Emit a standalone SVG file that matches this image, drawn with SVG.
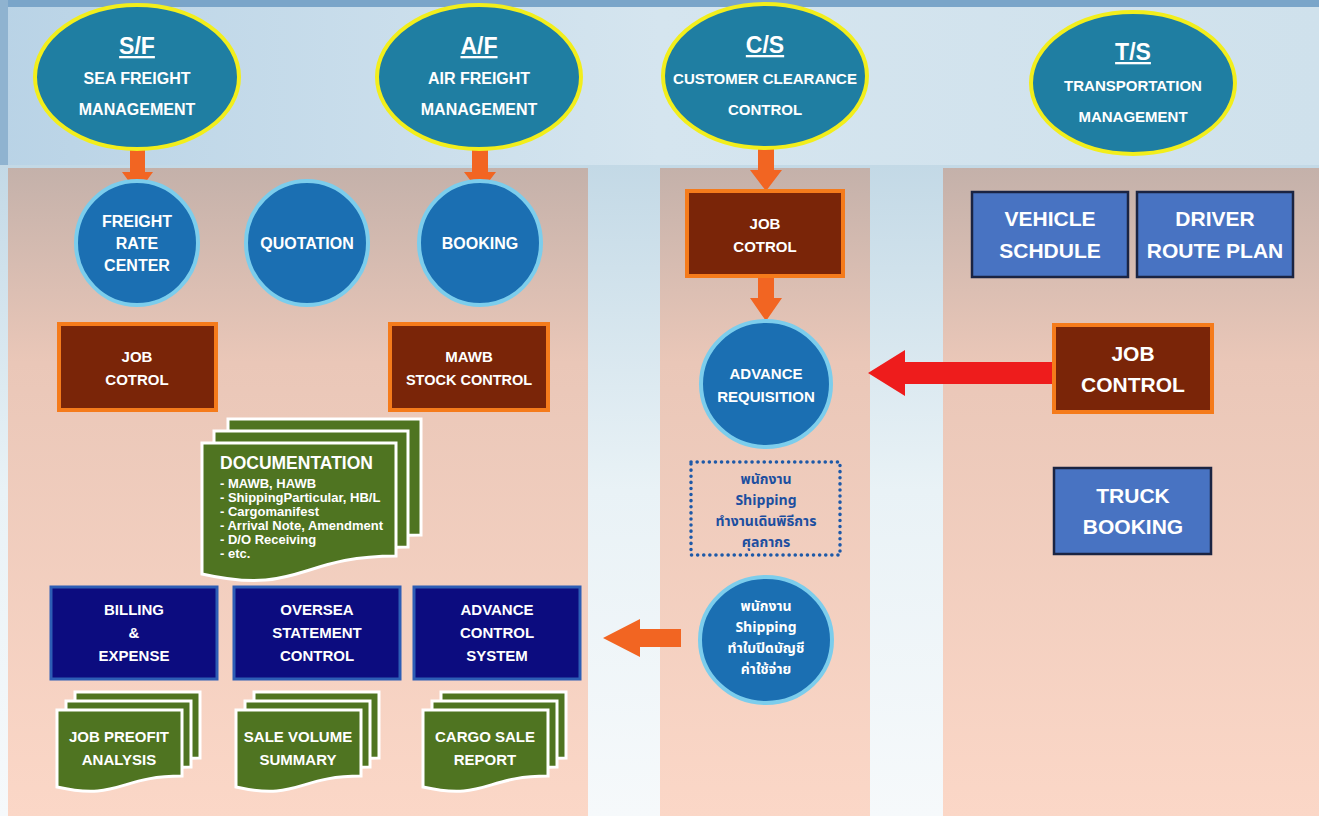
<svg xmlns="http://www.w3.org/2000/svg" width="1319" height="816" viewBox="0 0 1319 816">
<defs>
<linearGradient id="gTop" x1="0" y1="0" x2="1" y2="0"><stop offset="0" stop-color="#b9d3e6"/><stop offset="0.5" stop-color="#d5e5ef"/><stop offset="1" stop-color="#cfe1ec"/></linearGradient>
<linearGradient id="gPanel" x1="0" y1="0" x2="0" y2="1"><stop offset="0" stop-color="#c4b1aa"/><stop offset="0.3" stop-color="#eac7b8"/><stop offset="1" stop-color="#fbd7c7"/></linearGradient>
<linearGradient id="gGap" x1="0" y1="0" x2="0" y2="1"><stop offset="0" stop-color="#c3d9e6"/><stop offset="0.5" stop-color="#e9f2f6"/><stop offset="1" stop-color="#f6f9fb"/></linearGradient>
<style>
.ell{fill:#1f7ea2;stroke:#f2ee1c;stroke-width:4}
.cir{fill:#1b6fb2;stroke:#7ccdec;stroke-width:4}
.brn{fill:#7a2508;stroke:#f57b1b;stroke-width:4}
.nav{fill:#0c0c7f;stroke:#2d5db5;stroke-width:3}
.blu{fill:#4873c2;stroke:#1b2442;stroke-width:2.5}
.doc{fill:#4f7421;stroke:#ffffff;stroke-width:3}
.dot{fill:none;stroke:#1d59a8;stroke-width:3.5;stroke-dasharray:0.1 6;stroke-linecap:round}
.t{font-family:"Liberation Sans",Arial,sans-serif;font-weight:bold;fill:#ffffff;text-anchor:middle}
.th{font-family:"Noto Sans Thai","Noto Sans","DejaVu Sans","Liberation Sans",sans-serif;font-weight:bold;text-anchor:middle;font-size:14px}
.dl{font-size:13px;text-anchor:start}
.s15{font-size:15px}.s16{font-size:16px}.s14{font-size:14.5px}.s21{font-size:21px}.s23{font-size:23px}
.oarr{fill:#f26522}
.rarr{fill:#ee1c1c}
</style>
</defs>
<!-- background -->
<rect x="0" y="0" width="1319" height="816" fill="url(#gTop)"/>
<rect x="0" y="0" width="1319" height="7" fill="#7aa5c9"/>
<rect x="0" y="0" width="8" height="165" fill="#8fb3d0"/>
<rect x="0" y="165" width="1319" height="651" fill="url(#gGap)"/>
<rect x="8" y="168" width="580" height="648" fill="url(#gPanel)"/>
<rect x="660" y="168" width="210" height="648" fill="url(#gPanel)"/>
<rect x="943" y="168" width="376" height="648" fill="url(#gPanel)"/>

<g id="connectors">
<polygon class="oarr" points="130,150 145,150 145,172 153,172 137.5,193 122,172 130,172"/>
<polygon class="oarr" points="472,148 488,148 488,172 496,172 480,193 464,172 472,172"/>
<polygon class="oarr" points="758,148 774,148 774,170 782,170 766,191 750,170 758,170"/>
<polygon class="oarr" points="758,277 774,277 774,298 782,298 766,321 750,298 758,298"/>
<polygon class="oarr" points="681,629 640,629 640,619 603,638 640,657 640,647 681,647"/>
<polygon class="rarr" points="1053,362 905,362 905,350 868,373 905,396 905,384 1053,384"/>
</g>

<g id="sf"><ellipse class="ell" cx="137" cy="77" rx="102" ry="72"/>
<text class="t s23" x="137" y="54" text-decoration="underline">S/F</text>
<text class="t s16" x="137" y="84">SEA FREIGHT</text>
<text class="t s16" x="137" y="115">MANAGEMENT</text></g>
<g id="af"><ellipse class="ell" cx="479" cy="77" rx="102" ry="72"/>
<text class="t s23" x="479" y="54" text-decoration="underline">A/F</text>
<text class="t s16" x="479" y="84">AIR FREIGHT</text>
<text class="t s16" x="479" y="115">MANAGEMENT</text></g>
<g id="cs"><ellipse class="ell" cx="765" cy="76" rx="102" ry="72"/>
<text class="t s23" x="765" y="53" text-decoration="underline">C/S</text>
<text class="t s15" x="765" y="84">CUSTOMER CLEARANCE</text>
<text class="t s15" x="765" y="115">CONTROL</text></g>
<g id="ts"><ellipse class="ell" cx="1133" cy="83" rx="102" ry="71"/>
<text class="t s23" x="1133" y="60" text-decoration="underline">T/S</text>
<text class="t s15" x="1133" y="91">TRANSPORTATION</text>
<text class="t s15" x="1133" y="122">MANAGEMENT</text></g>

<g id="frc"><ellipse class="cir" cx="137" cy="243" rx="61" ry="62"/>
<text class="t s16" x="137" y="227">FREIGHT</text><text class="t s16" x="137" y="249">RATE</text><text class="t s16" x="137" y="271">CENTER</text></g>
<g id="quotation"><ellipse class="cir" cx="307" cy="243" rx="61" ry="62"/>
<text class="t s16" x="307" y="249">QUOTATION</text></g>
<g id="booking"><ellipse class="cir" cx="480" cy="243" rx="61" ry="62"/>
<text class="t s16" x="480" y="249">BOOKING</text></g>

<g id="jobcotrol1"><rect class="brn" x="59" y="324" width="157" height="86"/>
<text class="t s15" x="137" y="362">JOB</text><text class="t s15" x="137" y="385">COTROL</text></g>
<g id="mawb"><rect class="brn" x="390" y="324" width="158" height="86"/>
<text class="t s15" x="469" y="362">MAWB</text><text class="t s14" x="469" y="385">STOCK CONTROL</text></g>

<g id="documentation">
<path class="doc" d="M228,419 H421 V535 C325,535 325,575 228,553 Z"/>
<path class="doc" d="M214,431 H408 V547 C311,547 311,587 214,565 Z"/>
<path class="doc" d="M202,443 H396 V556 C299,556 299,596 202,574 Z"/>
<text class="t" style="font-size:17.5px;text-anchor:start" x="220" y="469">DOCUMENTATION</text>
<text class="t dl" x="220" y="488">- MAWB, HAWB</text>
<text class="t dl" x="220" y="502">- ShippingParticular, HB/L</text>
<text class="t dl" x="220" y="516">- Cargomanifest</text>
<text class="t dl" x="220" y="530">- Arrival Note, Amendment</text>
<text class="t dl" x="220" y="544">- D/O Receiving</text>
<text class="t dl" x="220" y="558">- etc.</text>
</g>

<g id="billing"><rect class="nav" x="51" y="587" width="166" height="92"/>
<text class="t s15" x="134" y="615">BILLING</text><text class="t s15" x="134" y="638">&amp;</text><text class="t s15" x="134" y="661">EXPENSE</text></g>
<g id="oversea"><rect class="nav" x="234" y="587" width="166" height="92"/>
<text class="t s15" x="317" y="615">OVERSEA</text><text class="t s15" x="317" y="638">STATEMENT</text><text class="t s15" x="317" y="661">CONTROL</text></g>
<g id="advctrl"><rect class="nav" x="414" y="587" width="166" height="92"/>
<text class="t s15" x="497" y="615">ADVANCE</text><text class="t s15" x="497" y="638">CONTROL</text><text class="t s15" x="497" y="661">SYSTEM</text></g>

<g id="jobprofit">
<path class="doc" d="M75,692 H200 V758 C137,758 137,783 75,769 Z"/>
<path class="doc" d="M66,701 H191 V767 C128,767 128,792 66,778 Z"/>
<path class="doc" d="M57,710 H182 V776 C119,776 119,801 57,787 Z"/>
<text class="t s15" x="119" y="742">JOB PREOFIT</text><text class="t s15" x="119" y="765">ANALYSIS</text></g>
<g id="salevolume">
<path class="doc" d="M254,692 H379 V758 C316,758 316,783 254,769 Z"/>
<path class="doc" d="M245,701 H370 V767 C307,767 307,792 245,778 Z"/>
<path class="doc" d="M236,710 H361 V776 C298,776 298,801 236,787 Z"/>
<text class="t s15" x="298" y="742">SALE VOLUME</text><text class="t s15" x="298" y="765">SUMMARY</text></g>
<g id="cargosale">
<path class="doc" d="M441,692 H566 V758 C503,758 503,783 441,769 Z"/>
<path class="doc" d="M432,701 H557 V767 C494,767 494,792 432,778 Z"/>
<path class="doc" d="M423,710 H548 V776 C485,776 485,801 423,787 Z"/>
<text class="t s15" x="485" y="742">CARGO SALE</text><text class="t s15" x="485" y="765">REPORT</text></g>

<g id="jobcotrol2"><rect class="brn" x="687" y="191" width="156" height="85"/>
<text class="t s15" x="765" y="229">JOB</text><text class="t s15" x="765" y="252">COTROL</text></g>
<g id="advreq"><ellipse class="cir" cx="766" cy="384" rx="65" ry="63"/>
<text class="t s15" x="766" y="379">ADVANCE</text><text class="t s15" x="766" y="402">REQUISITION</text></g>
<g id="shipping1"><rect class="dot" x="691" y="462" width="149" height="93"/>
<text class="th" style="fill:#1d4fa0" x="766" y="484">พนักงาน</text>
<text class="th" style="fill:#1d4fa0" x="766" y="505">Shipping</text>
<text class="th" style="fill:#1d4fa0" x="766" y="526">ทำงานเดินพิธีการ</text>
<text class="th" style="fill:#1d4fa0" x="766" y="547">ศุลกากร</text></g>
<g id="shipping2"><ellipse class="cir" cx="766" cy="640" rx="66" ry="63"/>
<text class="th" style="fill:#ffffff" x="766" y="611">พนักงาน</text>
<text class="th" style="fill:#ffffff" x="766" y="632">Shipping</text>
<text class="th" style="fill:#ffffff" x="766" y="653">ทำใบปิดบัญชี</text>
<text class="th" style="fill:#ffffff" x="766" y="674">ค่าใช้จ่าย</text></g>

<g id="vehicle"><rect class="blu" x="972" y="192" width="156" height="85"/>
<text class="t s21" x="1050" y="226">VEHICLE</text><text class="t s21" x="1050" y="258">SCHDULE</text></g>
<g id="driver"><rect class="blu" x="1137" y="192" width="156" height="85"/>
<text class="t s21" x="1215" y="226">DRIVER</text><text class="t s21" x="1215" y="258">ROUTE PLAN</text></g>
<g id="jobcontrol3"><rect class="brn" x="1054" y="325" width="158" height="87"/>
<text class="t s21" x="1133" y="361">JOB</text><text class="t s21" x="1133" y="392">CONTROL</text></g>
<g id="truck"><rect class="blu" x="1054" y="468" width="157" height="86"/>
<text class="t s21" x="1133" y="503">TRUCK</text><text class="t s21" x="1133" y="534">BOOKING</text></g>
</svg>
